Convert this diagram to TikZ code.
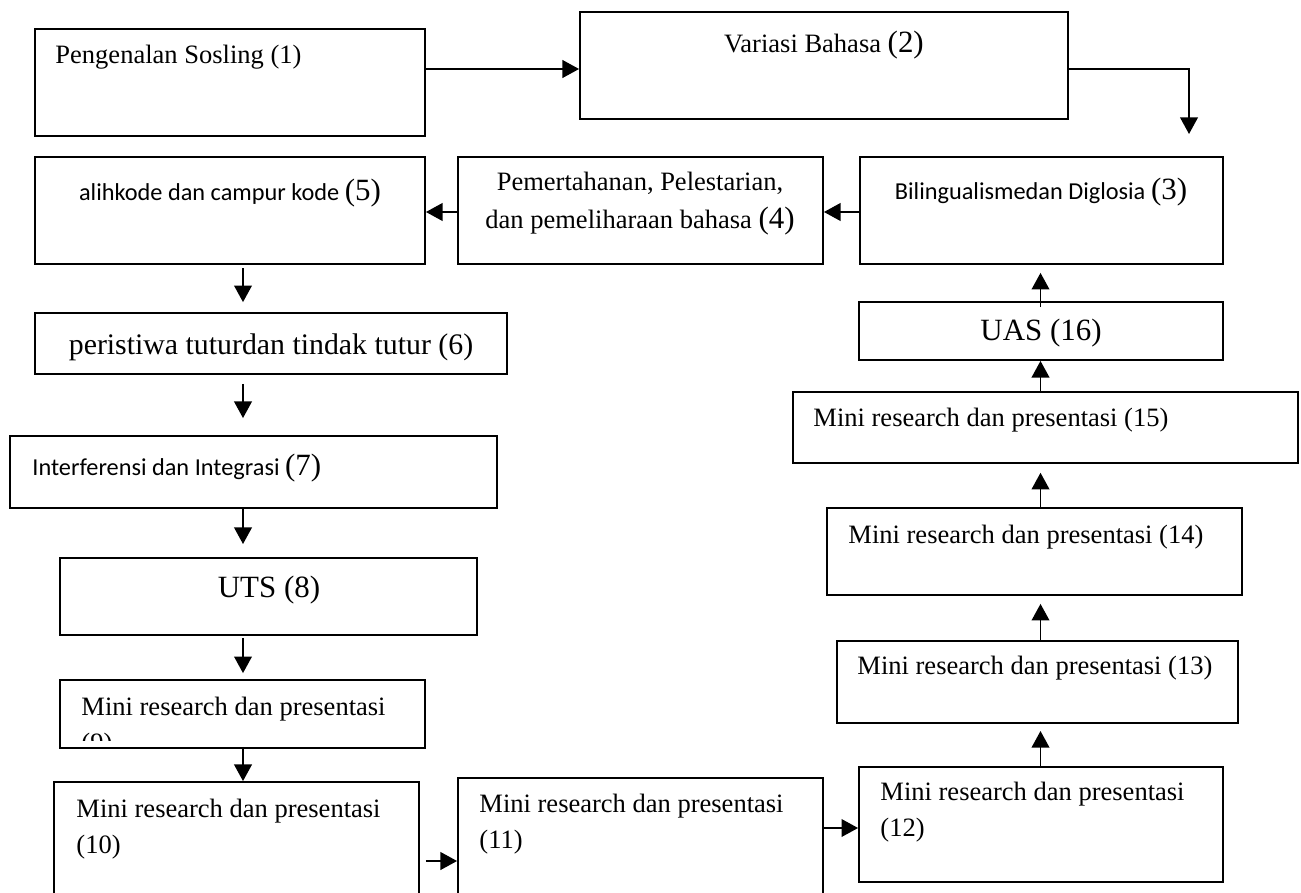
\documentclass[tikz,border=0pt]{standalone}
\usepackage{fontspec}
\setmainfont{Liberation Serif}
\newfontfamily\calfont{Carlito}
\usetikzlibrary{arrows.meta,fit}
\begin{document}
\begin{tikzpicture}[x=0.4525pt,y=-0.4525pt,
  box/.style={draw,line width=0.85pt,inner sep=0pt},
  arr/.style={line width=0.75pt,-{Triangle[length=7.5pt,width=8pt]}},
  txt/.style={inner sep=0pt,font=\fontsize{12}{16.3}\selectfont},
  calt/.style={inner sep=0pt,font=\calfont\fontsize{11}{14}\selectfont},
  bigt/.style={inner sep=0pt,font=\fontsize{14}{17}\selectfont}]
\clip (0,0) rectangle (1301,893);
\fill[white] (0,0) rectangle (1301,893);
% boxes
\node[box,fit={(35,29) (425,136)}] (b1) {};
\node[box,fit={(580,12) (1068,119)}] (b2) {};
\node[box,fit={(860,157) (1223,264)}] (b3) {};
\node[box,fit={(458,157) (823,264)}] (b4) {};
\node[box,fit={(35,157) (425,264)}] (b5) {};
\node[box,fit={(35,313) (507,374)}] (b6) {};
\node[box,fit={(10,436) (497,508)}] (b7) {};
\node[box,fit={(60,558) (477,635)}] (b8) {};
\node[box,fit={(60,680) (425,748)}] (b9) {};
\node[box,fit={(54,782) (419,920)}] (b10) {};
\node[box,fit={(458,778) (823,920)}] (b11) {};
\node[box,fit={(859,767) (1223,882)}] (b12) {};
\node[box,fit={(837,641) (1238,723)}] (b13) {};
\node[box,fit={(827,508) (1242,595)}] (b14) {};
\node[box,fit={(793,392) (1298,463)}] (b15) {};
\node[box,fit={(859,302) (1223,360)}] (b16) {};
% texts
\node[txt,anchor=west] (t1) at (55,57) {Pengenalan Sosling (1)};
\node[txt] (t2) at (824,45) {Variasi Bahasa {\fontsize{14}{17}\selectfont(2)}};
\node[calt] (t3) at (1041,192) {Bilingualismedan Diglosia {\rmfamily\fontsize{14}{17}\selectfont(3)}};
\node[txt,align=center,font=\fontsize{12}{17.2}\selectfont] (t4) at (640,204) {Pemertahanan, Pelestarian,\\dan pemeliharaan bahasa {\fontsize{14}{17.2}\selectfont(4)}};
\node[calt] (t5) at (230,193) {alihkode dan campur kode {\rmfamily\fontsize{14}{17}\selectfont(5)}};
\node[inner sep=0pt,font=\fontsize{13.5}{16}\selectfont] (t6) at (271,347) {peristiwa tuturdan tindak tutur (6)};
\node[calt,anchor=west] (t7) at (32,468) {Interferensi dan Integrasi {\rmfamily\fontsize{14}{17}\selectfont(7)}};
\node[bigt] (t8) at (269,590) {UTS (8)};
\begin{scope}
\clip (60,680) rectangle (425,740);
\node[txt,anchor=north west,align=left] (t9) at (81,697) {Mini research dan presentasi\\(9)};
\end{scope}
\node[txt,anchor=west,align=left] (t10) at (76,829) {Mini research dan presentasi\\(10)};
\node[txt,anchor=west,align=left] (t11) at (479,824) {Mini research dan presentasi\\(11)};
\node[txt,anchor=west,align=left] (t12) at (880,812.5) {Mini research dan presentasi\\(12)};
\node[txt,anchor=west] (t13) at (857,668) {Mini research dan presentasi (13)};
\node[txt,anchor=west] (t14) at (848,537) {Mini research dan presentasi (14)};
\node[txt,anchor=west] (t15) at (813,420) {Mini research dan presentasi (15)};
\node[bigt] (t16) at (1041,333) {UAS (16)};
% helper coordinates
\coordinate (r69) at (0,69);
\coordinate (r212) at (0,212);
\coordinate (r861) at (0,861);
\coordinate (r828) at (0,828);
\coordinate (cl) at (243,0);
\coordinate (cr) at (1040.5,0);
\coordinate (k23) at (1189,69);
\coordinate (e23) at (1189,134);
% connectors
\draw[arr] (b1.east |- r69) -- (b2.west |- r69);
\draw[arr] (b2.east |- r69) -- (k23) -- (e23);
\draw[arr] (b3.west |- r212) -- (b4.east |- r212);
\draw[arr] (b4.west |- r212) -- (b5.east |- r212);
\draw[arr,shorten <=1.4pt,shorten >=4.5pt] (b5.south -| cl) -- (b6.north -| cl);
\draw[arr,shorten <=4pt,shorten >=7.7pt] (b6.south -| cl) -- (b7.north -| cl);
\draw[arr,shorten >=5.9pt] (b7.south -| cl) -- (b8.north -| cl);
\draw[arr,shorten <=0.9pt,shorten >=2.7pt] (b8.south -| cl) -- (b9.north -| cl);
\draw[arr,shorten <=-0.9pt] (b9.south -| cl) -- (b10.north -| cl);
\draw[arr,shorten <=2.7pt] (b10.east |- r861) -- (b11.west |- r861);
\draw[arr] (b11.east |- r828) -- (b12.west |- r828);
\draw[arr,shorten >=3.2pt] (b12.north -| cr) -- (b13.south -| cr);
\draw[arr,shorten >=3.6pt] (b13.north -| cr) -- (b14.south -| cr);
\draw[arr,shorten >=4pt] (b14.north -| cr) -- (b15.south -| cr);
\draw[arr] (b15.north -| cr) -- (b16.south -| cr);
\draw[arr,shorten <=-2.7pt,shorten >=3.6pt] (b16.north -| cr) -- (b3.south -| cr);
\end{tikzpicture}
\end{document}
